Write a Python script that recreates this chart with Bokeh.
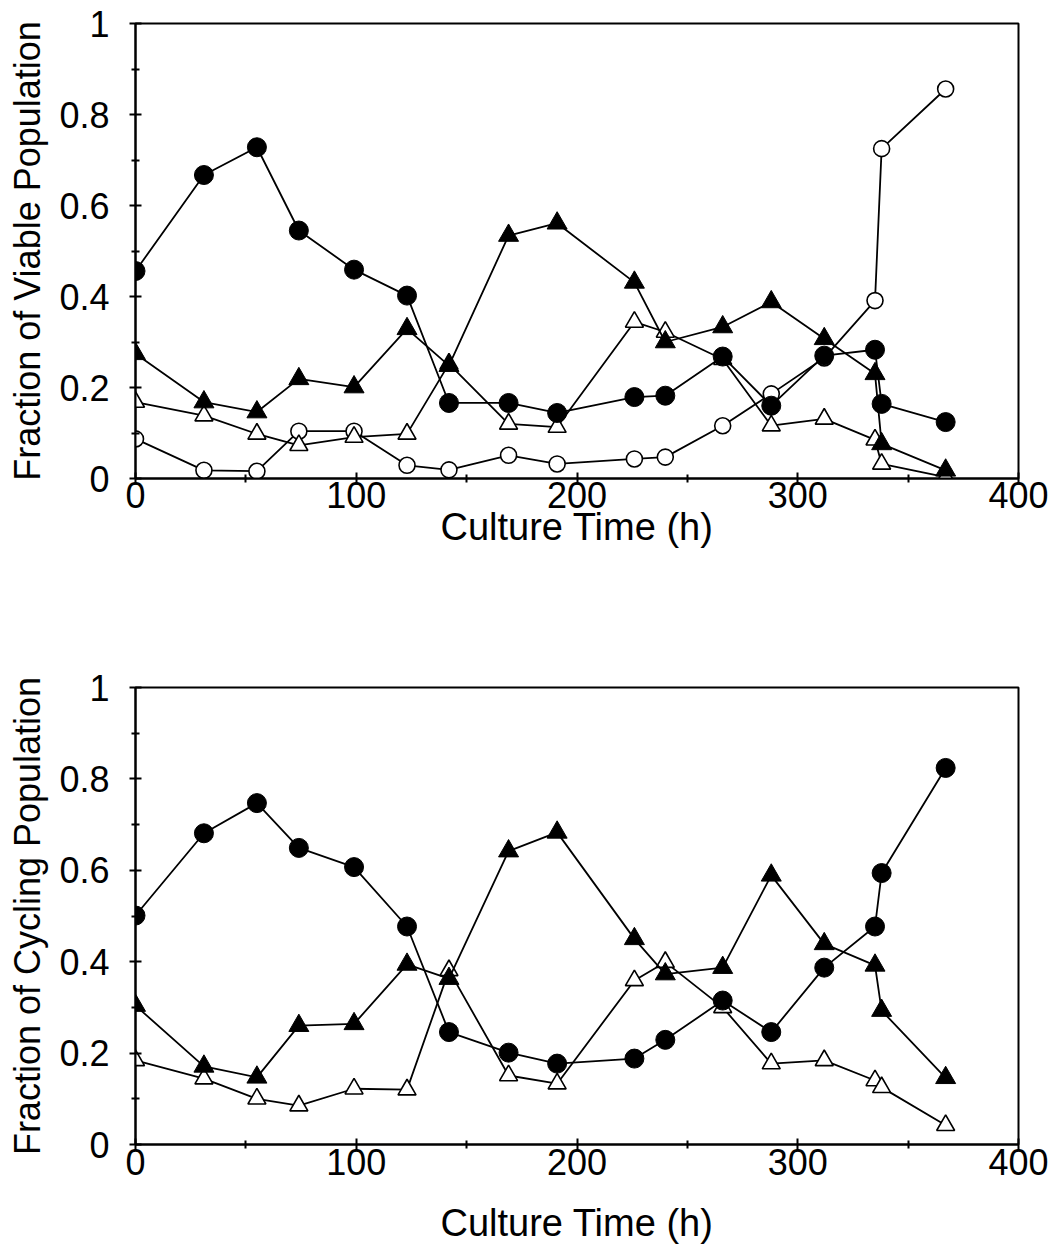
from bokeh.plotting import figure
from bokeh.layouts import column
from bokeh.models import FixedTicker, Range1d
from bokeh.embed import file_html
from bokeh.resources import INLINE

# ---- data ----
time_h = [0, 31, 55, 74, 99, 123, 142, 169, 191, 226, 240, 266, 288, 312, 335, 338, 367]

# Top panel: fraction of viable population
viable_filled_circle = [0.456, 0.667, 0.728, 0.545, 0.459, 0.402, 0.166, 0.166, 0.144,
                        0.179, 0.182, 0.268, 0.160, 0.270, 0.283, 0.164, 0.124]
viable_filled_triangle = [0.274, 0.168, 0.146, 0.219, 0.201, 0.329, 0.248, 0.534, 0.561,
                          0.431, 0.300, 0.333, 0.388, 0.307, 0.230, 0.076, 0.018]
viable_open_triangle = [0.168, 0.138, 0.098, 0.073, 0.091, 0.098, 0.252, 0.120, 0.113,
                        0.344, 0.322, 0.262, 0.116, 0.131, 0.085, 0.032, 0.003]
viable_open_circle = [0.087, 0.018, 0.016, 0.104, 0.104, 0.029, 0.019, 0.051, 0.032,
                      0.043, 0.047, 0.116, 0.186, 0.265, 0.391, 0.725, 0.856]

# Bottom panel: fraction of cycling population
cycling_filled_circle = [0.501, 0.681, 0.747, 0.649, 0.607, 0.477, 0.246, 0.201, 0.177,
                         0.188, 0.229, 0.315, 0.246, 0.387, 0.477, 0.594, 0.824]
cycling_filled_triangle = [0.304, 0.171, 0.147, 0.260, 0.264, 0.394, 0.363, 0.642, 0.683,
                           0.450, 0.373, 0.387, 0.589, 0.439, 0.392, 0.293, 0.146]
cycling_open_triangle = [0.184, 0.144, 0.100, 0.085, 0.122, 0.120, 0.381, 0.151, 0.133,
                         0.359, 0.399, 0.300, 0.177, 0.184, 0.140, 0.125, 0.042]

x_ticks = [0, 100, 200, 300, 400]
x_minor = [50, 150, 250, 350]
x_tick_labels = ["0", "100", "200", "300", "400"]
y_ticks = [0, 0.2, 0.4, 0.6, 0.8, 1.0]
y_minor = [0.1, 0.3, 0.5, 0.7, 0.9]
y_tick_labels = ["0", "0.2", "0.4", "0.6", "0.8", "1"]

FONT = "Liberation Sans"


def make_fig(height, mbl, mbr, mbt, mbb, ylabel, x_standoff, xlabel_standoff):
    p = figure(width=1050, height=height, x_range=Range1d(0, 400), y_range=Range1d(0, 1),
               output_backend="svg", toolbar_location=None,
               min_border_left=mbl, min_border_right=mbr,
               min_border_top=mbt, min_border_bottom=mbb)
    p.grid.visible = False
    p.outline_line_color = "black"
    p.outline_line_width = 2
    p.background_fill_color = "white"
    p.border_fill_color = "white"

    p.xaxis.ticker = FixedTicker(ticks=x_ticks, minor_ticks=x_minor)
    p.yaxis.ticker = FixedTicker(ticks=y_ticks, minor_ticks=y_minor)
    p.xaxis.major_label_overrides = dict(zip(x_ticks, x_tick_labels))
    p.yaxis.major_label_overrides = dict(zip(y_ticks, y_tick_labels))

    for ax in (p.xaxis[0], p.yaxis[0]):
        ax.axis_line_width = 2
        ax.axis_line_color = "black"
        ax.major_tick_line_width = 2
        ax.minor_tick_line_width = 2
        ax.major_tick_line_color = "black"
        ax.minor_tick_line_color = "black"
        ax.major_tick_in = 6
        ax.major_tick_out = 6
        ax.minor_tick_in = 4
        ax.minor_tick_out = 4
        ax.major_label_text_font = FONT
        ax.major_label_text_color = "black"
        ax.axis_label_text_font = FONT
        ax.axis_label_text_font_style = "normal"
        ax.axis_label_text_color = "black"

    p.xaxis.major_label_text_font_size = "36px"
    p.yaxis.major_label_text_font_size = "36px"
    p.xaxis.axis_label_text_font_size = "38px"
    p.yaxis.axis_label_text_font_size = "36px"
    p.xaxis.major_label_standoff = x_standoff
    p.yaxis.major_label_standoff = 20
    p.xaxis.axis_label_standoff = xlabel_standoff
    p.yaxis.axis_label_standoff = 8
    p.xaxis.axis_label = "Culture Time (h)"
    p.yaxis.axis_label = ylabel
    return p


def add_series(p, y, marker, filled):
    p.line(time_h, y, line_color="black", line_width=1.8)
    if filled:
        p.scatter(time_h, y, marker=marker, size=19 if marker == "circle" else 20,
                  fill_color="black", line_color="black", line_width=1)
    else:
        p.scatter(time_h, y, marker=marker, size=16 if marker == "circle" else 18,
                  fill_color="white", line_color="black", line_width=1.6)


p1 = make_fig(height=560, mbl=135, mbr=30, mbt=23, mbb=82,
              ylabel="Fraction of Viable Population", x_standoff=-3, xlabel_standoff=-5)
add_series(p1, viable_open_circle, "circle", False)
add_series(p1, viable_open_triangle, "triangle", False)
add_series(p1, viable_filled_triangle, "triangle", True)
add_series(p1, viable_filled_circle, "circle", True)

p2 = make_fig(height=690, mbl=133, mbr=32, mbt=127, mbb=106,
              ylabel="Fraction of Cycling Population", x_standoff=-2, xlabel_standoff=24)
add_series(p2, cycling_open_triangle, "triangle", False)
add_series(p2, cycling_filled_triangle, "triangle", True)
add_series(p2, cycling_filled_circle, "circle", True)

layout = column(p1, p2, spacing=0)
open("out.html", "w").write(file_html(layout, INLINE))
